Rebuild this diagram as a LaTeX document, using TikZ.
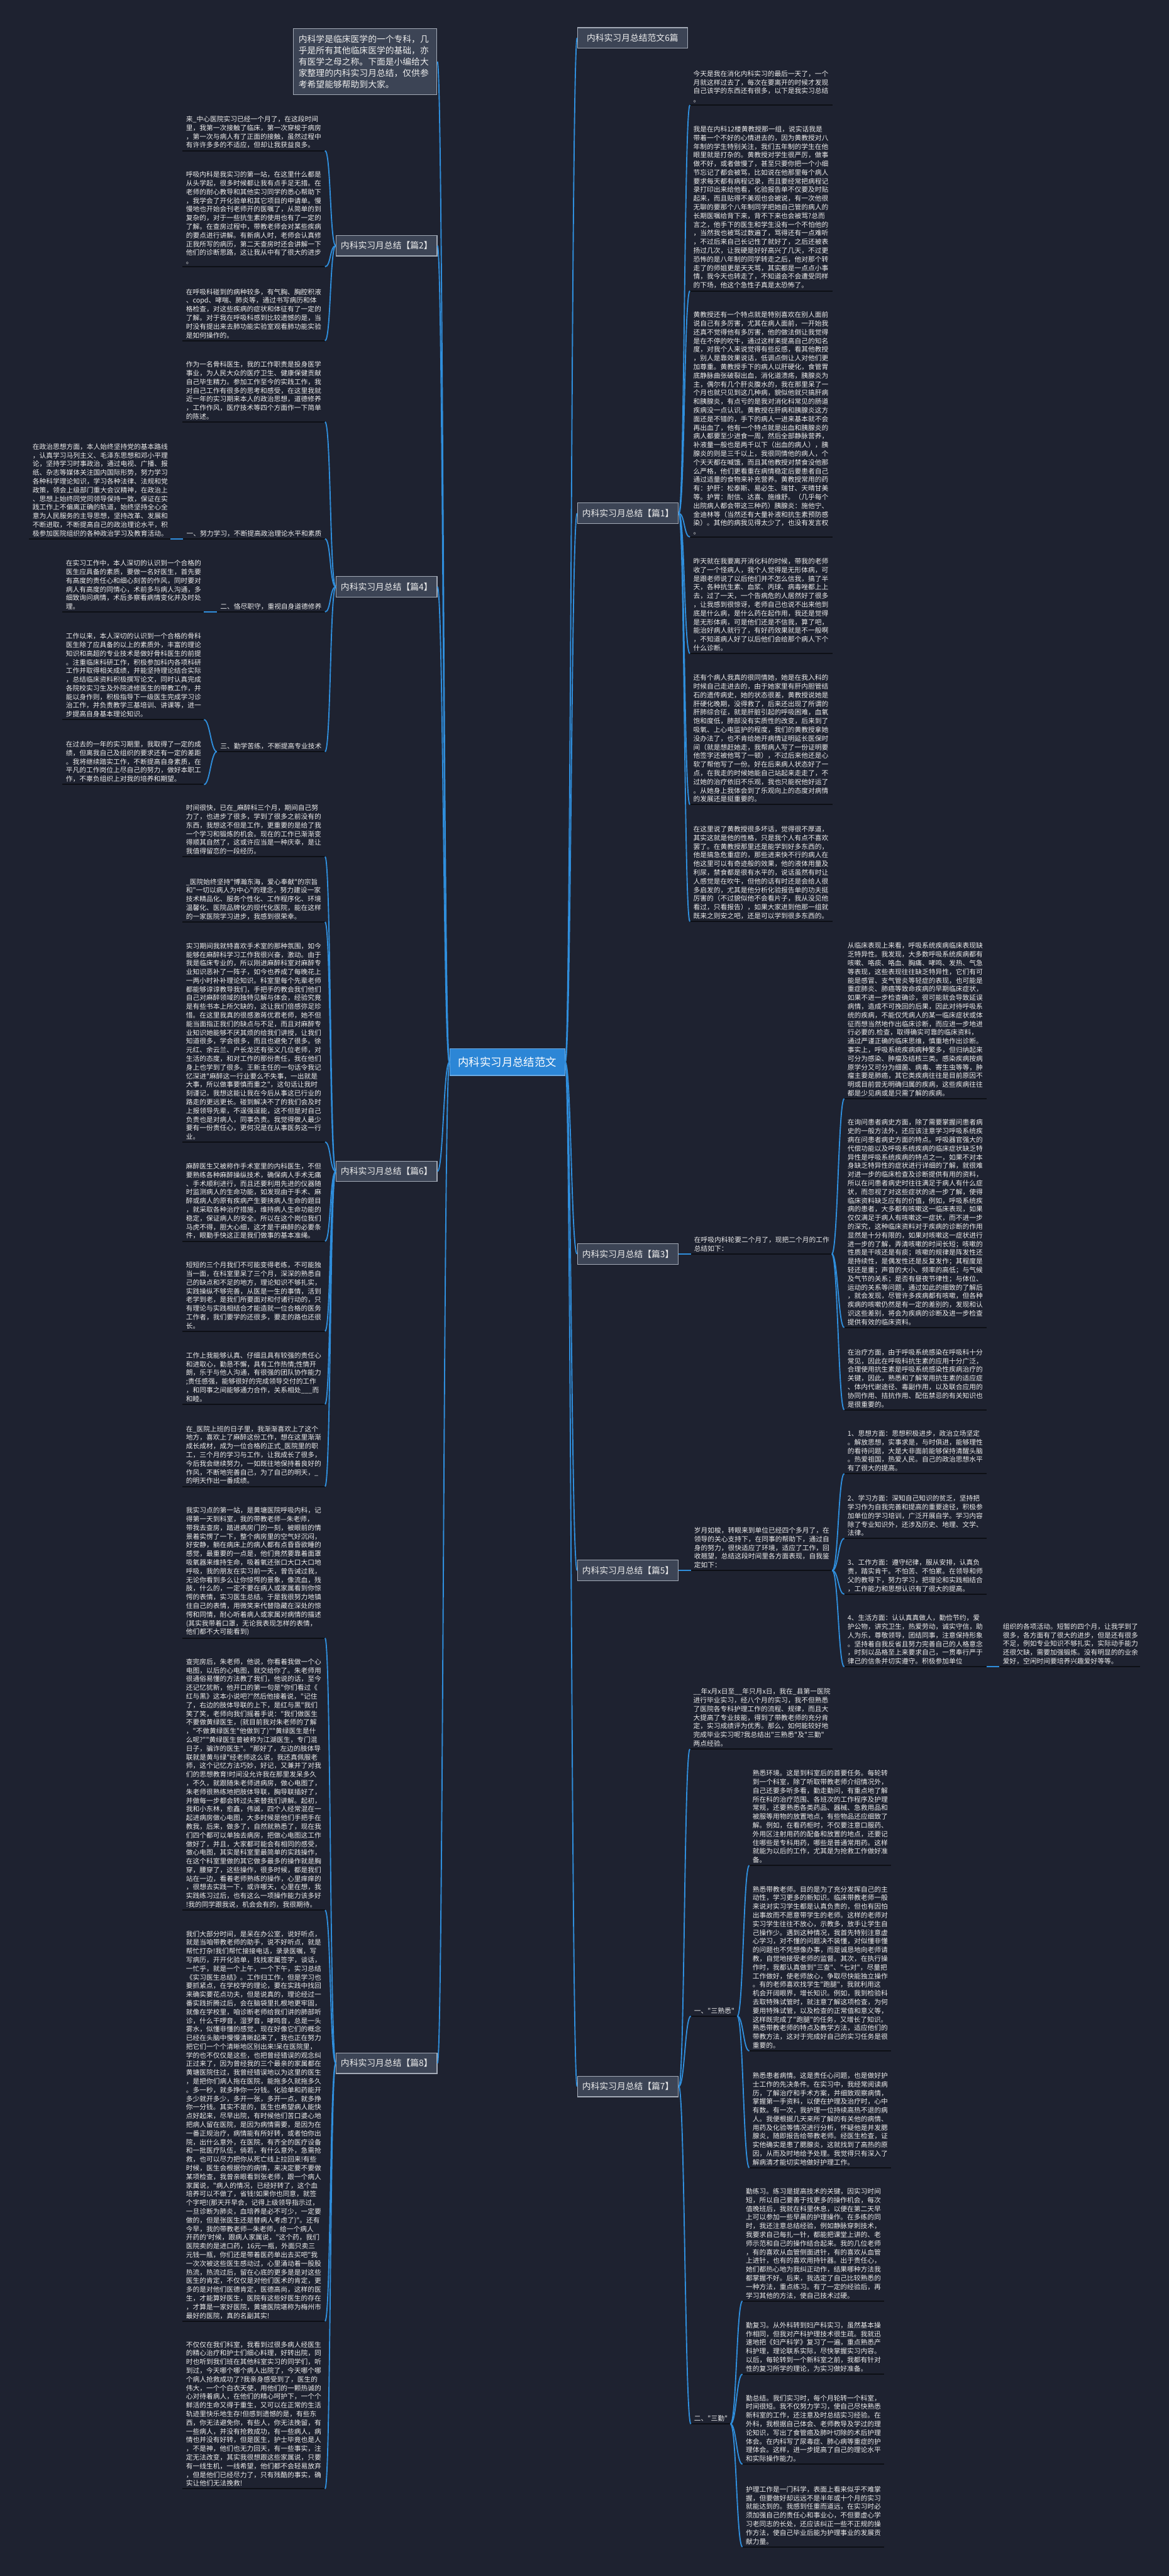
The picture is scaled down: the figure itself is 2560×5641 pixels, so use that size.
\documentclass[tikz,border=0pt]{standalone}
\usepackage{fontspec}
\newfontfamily\cjk{Noto Sans CJK SC}
\definecolor{bgc}{HTML}{1E2230}
\definecolor{connc}{HTML}{2F8EDC}
\definecolor{ulc}{HTML}{0D0F15}
\definecolor{txtc}{HTML}{EDEDED}
\definecolor{lblfill}{HTML}{3C4455}
\definecolor{lblbd}{HTML}{A3AAB6}
\definecolor{ctrfill}{HTML}{2C86D6}
\newcommand\blkfont{\cjk\fontsize{7.4}{9.5}\selectfont}
\newcommand\lblfont{\cjk\fontsize{9.5}{12.5}\selectfont}
\newcommand\ctrfont{\cjk\fontsize{12}{14}\selectfont}
\newcommand\connR[2]{\draw[conn] (#1) .. controls +(13,0) and +(-13,0) .. (#2);}
\newcommand\connL[2]{\draw[conn] (#1) .. controls +(-13,0) and +(13,0) .. (#2);}
\tikzset{
 conn/.style={draw=connc, line width=1.3pt},
 uline/.style={draw=ulc, line width=1.4pt},
 blk/.style={anchor=south west, text width=#1, align=left, inner xsep=3.5pt, inner ysep=2.3pt, font=\blkfont, text=txtc},
 lbl/.style={draw=lblbd, fill=lblfill, line width=0.8pt, text=txtc, font=\lblfont, minimum width=110.5pt, minimum height=22.5pt, inner sep=0pt},
}
\begin{document}
\begin{tikzpicture}[x=0.5pt,y=-0.5pt]
\fill[bgc] (0,0) rectangle (2560,5641);
\useasboundingbox (0,0) rectangle (2560,5641);

% ---------- centre ----------
\node[draw=ctrfill!70!white, line width=0.8pt, fill=ctrfill, text=white, font=\ctrfont, minimum width=126pt, minimum height=29pt, inner sep=0pt] (ctr) at (1111,2326) {内科实习月总结范文};

% ---------- intro ----------
\node[lbl, text width=146pt, align=left, minimum width=0pt, inner xsep=5.5pt, inner ysep=6.5pt] (intro) at (800,135) {内科学是临床医学的一个专科，几\\乎是所有其他临床医学的基础，亦\\有医学之母之称。下面是小编给大\\家整理的内科实习月总结，仅供参\\考希望能够帮助到大家。};

% ---------- left labels ----------
\node[lbl, anchor=east] (lab2) at (958,538) {内科实习月总结【篇2】};
\node[lbl, anchor=east] (lab4) at (958,1285) {内科实习月总结【篇4】};
\node[lbl, anchor=east] (lab6) at (958,2565) {内科实习月总结【篇6】};
\node[lbl, anchor=east] (lab8) at (958,4518) {内科实习月总结【篇8】};

% ---------- right labels ----------
\node[lbl, anchor=west, minimum width=120.5pt] (lab0) at (1264,83) {内科实习月总结范文6篇};
\node[lbl, anchor=west] (lab1) at (1264,1124) {内科实习月总结【篇1】};
\node[lbl, anchor=west] (lab3) at (1264,2746) {内科实习月总结【篇3】};
\node[lbl, anchor=west] (lab5) at (1264,3439) {内科实习月总结【篇5】};
\node[lbl, anchor=west] (lab7) at (1264,4569) {内科实习月总结【篇7】};

% ---------- 篇2 ----------
\node[blk=148.5pt] (a1) at (400,330) {来\_中心医院实习已经一个月了，在这段时间\\里，我第一次接触了临床，第一次穿梭于病房\\，第一次与病人有了正面的接触，虽然过程中\\有许许多多的不适应，但却让我获益良多。};
\node[blk=148.5pt] (a2) at (400,584) {呼吸内科是我实习的第一站，在这里什么都是\\从头学起，很多时候都让我有点手足无措。在\\老师的耐心教导和其他实习同学的悉心帮助下\\，我学会了开化验单和其它项目的申请单。慢\\慢地也开始会刊老师开的医嘱了，从简单的到\\复杂的，对于一些抗生素的使用也有了一定的\\了解。在查房过程中，带教老师会对某些疾病\\的要点进行讲解。有新病人时，老师会认真修\\正我所写的病历，第二天查房时还会讲解一下\\他们的诊断思路，这让我从中有了很大的进步\\。};
\node[blk=148.5pt] (a3) at (400,746) {在呼吸科碰到的病种较多，有气胸、胸腔积液\\、copd、哮喘、肺炎等，通过书写病历和体\\格检查，对这些疾病的症状和体征有了一定的\\了解。对于我在呼吸科感到比较遗憾的是，当\\时没有提出来去肺功能实验室观看肺功能实验\\是如何操作的。};

% ---------- 篇4 ----------
\node[blk=148.5pt] (b0) at (400,924) {作为一名骨科医生，我的工作职责是投身医学\\事业，为人民大众的医疗卫生、健康保健贡献\\自己毕生精力。参加工作至今的实践工作，我\\对自己工作有很多的思考和感受，在这里我就\\近一年的实习期来本人的政治思想，道德修养\\，工作作风，医疗技术等四个方面作一下简单\\的陈述。};
\node[blk=148pt] (k1) at (401,1180) {一、努力学习，不断提高政治理论水平和素质};
\node[blk=147.5pt] (p1) at (64,1180) {在政治思想方面，本人始终坚持党的基本路线\\，认真学习马列主义、毛泽东思想和邓小平理\\论，坚持学习时事政治，通过电视、广播、报\\纸、杂志等媒体关注国内国际形势，努力学习\\各种科学理论知识，学习各种法律、法规和党\\政策，领会上级部门重大会议精神，在政治上\\、思想上始终同党同领导保持一致，保证在实\\践工作上不偏离正确的轨道，始终坚持全心全\\意为人民服务的主导思想，坚持改革、发展和\\不断进取，不断提高自己的政治理论水平，积\\极参加医院组织的各种政治学习及教育活动。};
\node[blk=111pt] (k2) at (475,1340) {二、恪尽职守，重视自身道德修养};
\node[blk=147.5pt] (q1) at (137,1340) {在实习工作中，本人深切的认识到一个合格的\\医生应具备的素质，要做一名好医生，首先要\\有高度的责任心和细心刻苦的作风，同时要对\\病人有高度的同情心，术前多与病人沟通，多\\细致询问病情，术后多察看病情变化并及时处\\理。};
\node[blk=111pt] (k3) at (475,1646) {三、勤学苦练，不断提高专业技术};
\node[blk=147.5pt] (t1) at (137,1576) {工作以来，本人深切的认识到一个合格的骨科\\医生除了应具备的以上的素质外，丰富的理论\\知识和高超的专业技术是做好骨科医生的前提\\。注重临床科研工作，积极参加科内各项科研\\工作并取得相关成绩，并能坚持理论结合实际\\，总结临床资料积极撰写论文，同时认真完成\\各院校实习生及外院进修医生的带教工作，并\\能以身作则，积极指导下一级医生完成学习诊\\治工作，并负责教学三基培训、讲课等，进一\\步提高自身基本理论知识。};
\node[blk=147.5pt] (t2) at (137,1718) {在过去的一年的实习期里，我取得了一定的成\\绩，但离我自己及组织的要求还有一定的差距\\。我将继续踏实工作，不断提高自身素质，在\\平凡的工作岗位上尽自己的努力，做好本职工\\作，不辜负组织上对我的培养和期望。};

% ---------- 篇6 ----------
\node[blk=148.5pt] (l1) at (400,1876) {时间很快，已在\_麻醉科三个月，期间自己努\\力了，也进步了很多，学到了很多之前没有的\\东西，我想这不但是工作，更重要的是给了我\\一个学习和锻炼的机会。现在的工作已渐渐变\\得顺其自然了，这或许应当是一种庆幸，是让\\我值得留恋的一段经历。};
\node[blk=148.5pt] (l2) at (400,2019) {\_医院始终坚持"博瀚东海，爱心奉献"的宗旨\\和"一切以病人为中心"的理念，努力建设一家\\技术精品化、服务个性化、工作程序化、环境\\温馨化、医院品牌化的现代化医院，能在这样\\的一家医院学习进步，我感到很荣幸。};
\node[blk=148.5pt] (l3) at (400,2501) {实习期间我就特喜欢手术室的那种氛围，如今\\能够在麻醉科学习工作我很兴奋，激动。由于\\我是临床专业的，所以刚进麻醉科室对麻醉专\\业知识恶补了一阵子，如今也养成了每晚花上\\一两小时补补理论知识。科室里每个先辈老师\\都能够谆谆教导我们，手把手的教会我们他们\\自己对麻醉领域的独特见解与体会，经验究竟\\是有些书本上所欠缺的，这让我们倍感弥足珍\\惜。在这里我真的很感激蒋优君老师，她不但\\能当面指正我们的缺点与不足，而且对麻醉专\\业知识她能够不厌其烦的给我们讲授，让我们\\知道很多，学会很多，而且也避免了很多。徐\\元红、余云兰、户长龙还有张义几位老师，对\\生活的态度，和对工作的那份责任，我在他们\\身上也学到了很多。王新主任的一句话令我记\\忆深进"麻醉这一行业要么不失事，一出就是\\大事，所以做事要慎而重之"，这句话让我时\\刻谨记，我想这能让我在今后从事这已行业的\\路走的更远更长。碰到解决不了的我们会及时\\上报领导先辈，不逞强逞能，这不但是对自己\\负责也是对病人，同事负责。我觉得做人最少\\要有一份责任心，更何况是在从事医务这一行\\业。};
\node[blk=148.5pt] (l4) at (400,2718) {麻醉医生又被称作手术室里的内科医生，不但\\要熟练各种麻醉操纵技术，确保病人手术无痛\\、手术顺利进行，而且还要利用先进的仪器随\\时监测病人的生命功能，如发现由于手术、麻\\醉或病人的原有疾病产生要挟病人生命的题目\\，就采取各种治疗措施，维持病人生命功能的\\稳定，保证病人的安全。所以在这个岗位我们\\马虎不得，胆大心细，这才是干麻醉的必要条\\件，眼勤手快这正是我们做事的基本准绳。};
\node[blk=148.5pt] (l5) at (400,2915) {短短的三个月我们不可能变得老练，不可能独\\当一面，在科室里呆了三个月，深深的熟悉自\\己的缺点和不足的地方，理论知识不够扎实，\\实践操纵不够完善，从医是一生的事情，活到\\老学到老，是我们所要面对和付诸行动的，只\\有理论与实践相结合才能造就一位合格的医务\\工作者，我们要学的还很多，要走的路也还很\\长。};
\node[blk=148.5pt] (l6) at (400,3075) {工作上我能够认真、仔细且具有较强的责任心\\和进取心，勤恳不懈，具有工作热情;性情开\\朗，乐于与他人沟通，有很强的团队协作能力\\;责任感强，能够很好的完成领导交付的工作\\，和同事之间能够通力合作，关系相处\_\_\_而\\和睦。};
\node[blk=148.5pt] (l7) at (400,3255) {在\_医院上班的日子里，我渐渐喜欢上了这个\\地方，喜欢上了麻醉这份工作，想在这里渐渐\\成长成材，成为一位合格的正式\_医院里的职\\工，三个月的学习与工作，让我成长了很多，\\今后我会继续努力，一如既往地保持着良好的\\作风，不断地完善自己，为了自己的明天，\_\\的明天作出一番成绩。};

% ---------- 篇8 ----------
\node[blk=148.5pt] (e1) at (400,3587) {我实习点的第一站，是黄塘医院呼吸内科，记\\得第一天到科室，我的带教老师—朱老师，\\带我去查房，踏进病房门的一刻，被眼前的情\\景着实愣了一下，整个病房里的空气好沉闷，\\好安静，躺在病床上的病人都有点昏昏欲睡的\\感觉，最重要的一点是，他们竟然要靠着面罩\\吸氧器来维持生命，吸着氧还张口大口大口地\\呼吸，我的朋友在实习前一天，曾告诫过我，\\无论你看到多么让你惊愕的景象，像流血，残\\肢，什么的，一定不要在病人或家属看到你惊\\愕的表情，实习医生总结。于是我很努力地镇\\住自己的表情，用微笑来代替隐藏在深处的惊\\愕和同情，耐心听着病人或家属对病情的描述\\(其实我带着口罩，无论我表现怎样的表情，\\他们都不大可能看到)};
\node[blk=148.5pt] (e2) at (400,4183) {查完房后，朱老师，他说，你看着我做一个心\\电图，以后的心电图，就交给你了。朱老师用\\很通俗易懂的方法教了我们，他说的话，至今\\还记忆犹新，他开口的第一句是"你们看过《\\红与黑》这本小说吧?"然后他接着说，"记住\\了，右边的肢体导联的上下，是红与黑"我们\\笑了笑，老师向我们摇着手说："我们做医生\\不要做黄绿医生，(就目前我对朱老师的了解\\，"不做黄绿医生"他做到了)""黄绿医生是什\\么呢?""黄绿医生曾被称为江湖医生，专门混\\日子，骗诈的医生"。"那好了，左边的肢体导\\联就是黄与绿"经老师这么说，我还真佩服老\\师，这个记忆方法巧妙，好记，又兼并了对我\\们的思想教育!时间没允许我在那里发呆多久\\，不久，就跟随朱老师进病房，做心电图了，\\朱老师很熟练地把肢体导联，胸导联插好了，\\并做每一步都会转过头来替我们讲解。起初，\\我和小东林，愈鑫，伟诚，四个人经常混在一\\起进病房做心电图，大多时候是他们手把手在\\教我，后来，做多了，自然就熟悉了，现在我\\们四个都可以单独去病房，把做心电图这工作\\做好了，并且，大家都可能会有相同的感受，\\做心电图，其实是科室里最简单的实践操作，\\在这个科室里做的其它做多最多的操作就是胸\\穿，腰穿了，这些操作，很多时候，都是我们\\站在一边，看着老师熟练的操作，心里痒痒的\\，很想去实践一下，或许哪天，心里在想，我\\实践练习过后，也有这么一项操作能力该多好\\!我的同学跟我说，机会会有的，我很期待。};
\node[blk=148.5pt] (e3) at (400,5083) {我们大部分时间，是呆在办公室，说好听点，\\就是当咱带教老师的助手，说不好听点，就是\\帮忙打杂!我们帮忙接接电话，录录医嘱，写\\写病历，开开化验单，找找家属签字，谈话，\\一忙乎，就是一个上午，一个下午，实习总结\\《实习医生总结》。工作归工作，但是学习也\\要抓紧点，在学校学的理论，要在实践中找回\\来确实要花点功夫，但是说真的，理论经过一\\番实践折腾过后，会在脑袋里扎根地更牢固，\\就像在学校里，咱诊断老师给我们讲的肺部听\\诊，什么干啰音，湿罗音，哮鸣音，总是一头\\雾水，似懂非懂的感觉，现在好像它们的概念\\已经在头脑中慢慢清晰起来了，我也正在努力\\把它们一个个清晰地区别出来!呆在医院里，\\学的也不仅仅是这些，也把曾经错误的观念纠\\正过来了，因为曾经我的三个最亲的家属都在\\黄塘医院住过，我曾经错误地以为这里的医生\\，是把你们病人拖在医院，能拖多久就拖多久\\。多一秒，就多挣你一分钱。化验单和药能开\\多少就开多少，多开一张，多开一点，就多挣\\你一分钱。其实不是的，医生也希望病人能快\\点好起来，尽早出院，有时候他们苦口婆心地\\把病人留在医院，是因为病情需要，是因为在\\一番正规治疗，病情能有所好转，或者怕你出\\院，出什么意外，在医院，有齐全的医疗设备\\和一批医疗队伍，倘若，有什么意外，急需抢\\救，也可以尽力把你从死亡线上拉回来!有些\\时候，医生会根据你的病情，来决定要不要做\\某项检查，我曾亲眼看到张老师，跟一个病人\\家属说，"病人的情况，已经好转了，这个血\\培养可以不做了，省钱!如果你也同意，就签\\个字吧!(那天开早会，记得上级领导指示过，\\一旦诊断为肺炎，血培养是必不可少，一定要\\做的，但是张医生还是替病人考虑了)"。还有\\今早，我的带教老师—朱老师，给一个病人\\开药的'时候，跟病人家属说，"这个药，我们\\医院卖的是进口药，16元一瓶，外面只卖三\\元钱一瓶，你们还是带着医药单出去买吧"我\\一次次被这些医生感动过，心里涌动着一股股\\热流，热流过后，留在心底的更多是是对这些\\医生的肯定，不仅仅是对他们医术的肯定，更\\多的是对他们医德肯定，医德高尚，这样的医\\生，才能算好医生，医院有这些好医生的存在\\，才算是一家好医院，黄塘医院堪称为梅州市\\最好的医院，真的名副其实!};
\node[blk=148.5pt] (e4) at (400,5450) {不仅仅在我们科室，我看到过很多病人经医生\\的精心治疗和护士们细心料理，好转出院，同\\时也听到我们班在其他科室实习的同学们，听\\到过，今天哪个哪个病人出院了，今天哪个哪\\个病人抢救成功了?我亲身感受到了，医生的\\伟大，一个个白衣天使，用他们的一颗热诚的\\心对待着病人，在他们的精心呵护下，一个个\\鲜活的生命又得于重生，又可以在正常的生活\\轨迹里快乐地生存!但感到遗憾的是，有些东\\西，你无法避免你，有些人，你无法挽留，有\\一些病人，并没有抢救成功，有一些病人，病\\情也并没有好转，但是医生，护士毕竟也是人\\，不是神，他们也无力回天，有一些事实，注\\定无法改变，其实我很想跟这些家属说，只要\\有一线生机，一线希望，他们都不会轻易放弃\\，但是他们已经尽力了，只有残酷的事实，确\\实让他们无法挽救!};

% ---------- 篇1 ----------
\node[blk=149pt] (r1) at (1511,230) {今天是我在消化内科实习的最后一天了，一个\\月就这样过去了，每次在要离开的时候才发现\\自己该学的东西还有很多，以下是我实习总结\\。};
\node[blk=149pt] (r2) at (1511,637) {我是在内科12楼黄教授那一组，说实话我是\\带着一个不好的心情进去的，因为黄教授对八\\年制的学生特别关注，我们五年制的学生在他\\眼里就是打杂的。黄教授对学生很严厉，做事\\做不好，或者做慢了，甚至只要你把一个小细\\节忘记了都会被骂，比如说在他那里每个病人\\要求每天都有病程记录，而且要经常把病程记\\录打印出来给他看，化验报告单不仅要及时贴\\起来，而且贴得不美观也会被说，有一次他很\\无聊的要那个八年制同学把她自己管的病人的\\长期医嘱给背下来，背不下来也会被骂?总而\\言之，他手下的医生和学生没有一个不怕他的\\，当然我也被骂过数遍了，骂得还有一点难听\\，不过后来自己长记性了就好了，之后还被表\\扬过几次，让我硬是好好高兴了几天，不过更\\恐怖的是八年制的同学转走之后，他对那个转\\走了的师姐更是天天骂，其实都是一点点小事\\情，我今天也转走了，不知道会不会遭受同样\\的下场，他这个急性子真是太恐怖了。};
\node[blk=149pt] (r3) at (1511,1176) {黄教授还有一个特点就是特别喜欢在别人面前\\说自己有多厉害，尤其在病人面前，一开始我\\还真不觉得他有多厉害，他的做法倒让我觉得\\是在不停的吹牛，通过这样来提高自己的知名\\度，对我个人来说觉得有些反感，看其他教授\\，别人是靠效果说话，低调点倒让人对他们更\\加尊重。黄教授手下的病人以肝硬化，食管胃\\底静脉曲张破裂出血，消化道溃疡，胰腺炎为\\主，偶尔有几个肝炎腹水的，我在那里呆了一\\个月也就只见到这几种病，貌似他就只搞肝病\\和胰腺炎，有点亏的是我对消化科常见的肠道\\疾病没一点认识。黄教授在肝病和胰腺炎这方\\面还是不错的，手下的病人一进来基本就不会\\再出血了，他有一个特点就是出血和胰腺炎的\\病人都要至少进食一周，然后全部静脉营养，\\补液量一般也是两千以下（出血的病人），胰\\腺炎的则是三千以上，我很同情他的病人，个\\个天天都在喊饿，而且其他教授对禁食没他那\\么严格，他们更看重在病情稳定后要患者自己\\通过适量的食物来补充营养。黄教授常用的药\\有：护肝：松泰斯、易必生、瑞甘、天晴甘美\\等。护胃：耐信、达喜、施维舒。（几乎每个\\出院病人都会带这三种药）胰腺炎：施他宁、\\金迪林等（当然还有大量补液和抗生素预防感\\染）。其他的病我见得太少了，也没有发言权\\。};
\node[blk=149pt] (r4) at (1511,1431) {昨天就在我要离开消化科的时候，带我的老师\\收了一个怪病人，我个人觉得是无形体病，可\\是跟老师说了以后他们并不怎么信我，搞了半\\天，各种抗生素、血浆、丙球、病毒唑都上上\\去，过了一天，一个告病危的人居然好了很多\\，让我感到很惊讶，老师自己也说不出来他到\\底是什么病，是什么药在起作用，我还是觉得\\是无形体病，可是他们还是不信我，算了吧，\\能治好病人就行了，有好药效果就是不一般啊\\，不知道病人好了以后他们会给那个病人下个\\什么诊断。};
\node[blk=149pt] (r5) at (1511,1762) {还有个病人我真的很同情她，她是在我入科的\\时候自己走进去的，由于她家里有肝内胆管结\\石的遗传病史，她的状态很差，黄教授说她是\\肝硬化晚期，没得救了，后来还出现了所谓的\\肝肺综合征，就是肝脏引起的呼吸困难，血氧\\饱和度低，肺部没有实质性的改变，后来到了\\吸氧、上心电监护的程度，我们的黄教授拿她\\没办法了，也不肯给她开病情证明延长医保时\\间（就是想赶她走，我帮病人写了一份证明要\\他签字还被他骂了一顿），不过后来他还是心\\软了帮他写了一份。好在后来病人状态好了一\\点，在我走的时候她能自己站起来走走了，不\\过她的治疗依旧不乐观，我也只能祝他好运了\\。从她身上我体会到了乐观向上的态度对病情\\的发展还是挺重要的。};
\node[blk=149pt] (r6) at (1511,2018) {在这里说了黄教授很多坏话，觉得很不厚道，\\其实这就是他的性格，只是我个人有点不喜欢\\罢了。在黄教授那里还是能学到好多东西的，\\他是搞急危重症的，那些进来快不行的病人在\\他这里可以有奇迹般的效果，他的液体用量及\\利尿，禁食都是很有水平的，说话虽然有时让\\人感觉是在吹牛，但他的话有时还是会给人很\\多启发的，尤其是他分析化验报告单的功夫挺\\厉害的（不过貌似他不会看片子，我从没见他\\看过，只看报告），如果大家进到他那一组就\\既来之则安之吧，还是可以学到很多东西的。};

% ---------- 篇3 ----------
\node[blk=147pt] (c0) at (1513,2746) {在呼吸内科轮要二个月了，现把二个月的工作\\总结如下：};
\node[blk=148.5pt] (s1) at (1849,2406) {从临床表现上来看，呼吸系统疾病临床表现缺\\乏特异性。我发现，大多数呼吸系统疾病都有\\咳嗽、咯痰、咯血、胸痛、哮鸣、发热、气急\\等表现，这些表现往往缺乏特异性，它们有可\\能是感冒、支气管炎等轻症的表现，也可能是\\重症肺炎、肺癌等致命疾病的早期临床症状，\\如果不进一步检查确诊，很可能就会导致延误\\病情，造成不可挽回的后果，因此对待呼吸系\\统的疾病，不能仅凭病人的某一临床症状或体\\征而想当然地作出临床诊断，而应进一步地进\\行必要的.检查，取得确实可靠的临床资料，\\通过严谨正确的临床思维，慎重地作出诊断。\\事实上，呼吸系统疾病病种繁多，但归纳起来\\可分为感染、肿瘤及结核三类。感染疾病按病\\原学分又可分为细菌、病毒、寄生虫等等，肿\\瘤主要是肺癌，其它类疾病往往是目前原因不\\明或目前尝无明确归属的疾病，这些疾病往往\\都是少见病或是只需了解的疾病。};
\node[blk=148.5pt] (s2) at (1849,2907) {在询问患者病史方面，除了需要掌握问患者病\\史的一般方法外，还应该注意学习呼吸系统疾\\病在问患者病史方面的特点。呼吸器官强大的\\代偿功能以及呼吸系统疾病的临床症状缺乏特\\异性是呼吸系统疾病的特点之一，如果不对本\\身缺乏特异性的症状进行详细的了解，就很难\\对进一步的临床检查及诊断提供有用的资料，\\所以在问患者病史时往往满足于病人有什么症\\状，而忽视了对这些症状的进一步了解，使得\\临床资料缺乏应有的价值，例如，呼吸系统疾\\病的患者，大多都有咳嗽这一临床表现，如果\\仅仅满足于病人有咳嗽这一症状，而不进一步\\的深究，这种临床资料对于疾病的诊断的作用\\显然是十分有限的，如果对咳嗽这一症状进行\\进一步的了解，弄清咳嗽的时间长短；咳嗽的\\性质是干咳还是有痰；咳嗽的规律是阵发性还\\是持续性，是偶发性还是反复发作；其程度是\\轻还是重；声音的大小、频率的高低；与气候\\及气节的关系；是否有昼夜节律性；与体位、\\运动的关系等问题，通过如此的细致的了解后\\，就会发现，尽管许多疾病都有咳嗽，但各种\\疾病的咳嗽仍然是有一定的差别的，发现和认\\识这些差别，将会为疾病的诊断及进一步检查\\提供有效的临床资料。};
\node[blk=148.5pt] (s3) at (1849,3087) {在治疗方面，由于呼吸系统感染在呼吸科十分\\常见，因此在呼吸科抗生素的应用十分广泛，\\合理使用抗生素是呼吸系统感染性疾病治疗的\\关键，因此，熟悉和了解常用抗生素的适应症\\、体内代谢途径、毒副作用，以及联合应用的\\协同作用、拮抗作用、配伍禁忌的有关知识也\\是很重要的。};

% ---------- 篇5 ----------
\node[blk=147.5pt] (d0) at (1513,3439) {岁月如梭，转眼来到单位已经四个多月了，在\\领导的关心支持下，在同事的帮助下，通过自\\身的努力，很快适应了环境，适应了工作，回\\收翘望，总结这段时间里各方面表现，自我鉴\\定如下：};
\node[blk=148.5pt] (f1) at (1849,3227) {1、思想方面：思想积极进步，政治立场坚定\\。解放思想，实事求是，与时俱进，能够理性\\的看待问题，大是大非面前能够保持清醒头脑\\。热爱祖国，热爱人民。自己的政治思想水平\\有了很大的提高。};
\node[blk=148.5pt] (f2) at (1849,3369) {2、学习方面：深知自己知识的贫乏，坚持把\\学习作为自我完善和提高的重要途径，积极参\\加单位的学习培训，广泛开展自学。学习内容\\除了专业知识外，还涉及历史、地理、文学、\\法律。};
\node[blk=148.5pt] (f3) at (1849,3491) {3、工作方面：遵守纪律，服从安排，认真负\\责，踏实肯干。不怕苦、不怕累。在领导和师\\父的教导下，努力学习，把理论和实践相结合\\，工作能力和思想认识有了很大的提高。};
\node[blk=148.5pt] (f4) at (1849,3650) {4、生活方面：认认真真做人，勤俭节约，爱\\护公物，讲究卫生，热爱劳动，诚实守信，助\\人为乐，尊敬领导，团结同事，注意保持形象\\。坚持着自我反省且努力完善自己的人格意念\\，时刻以品格至上来要求自己，一贯奉行严于\\律己的信条并切实遵守。积极参加单位};
\node[blk=146.5pt] (g1) at (2189,3650) {组织的各项活动。短暂的四个月，让我学到了\\很多，各方面有了很大的进步，但是还有很多\\不足，例如专业知识不够扎实，实际动手能力\\还很欠缺，需要加强锻炼。没有明显的的业余\\爱好，空闲时间要培养兴趣爱好等等。};

% ---------- 篇7 ----------
\node[blk=149pt] (h0) at (1511,3830) {\_\_年x月x日至\_\_年只月x日，我在\_县第一医院\\进行毕业实习，经八个月的实习，我不但熟悉\\了医院各专科护理工作的流程、规律，而且大\\大提高了专业技能，得到了带教老师的充分肯\\定，实习成绩评为优秀。那么，如何能较好地\\完成毕业实习呢?我总结出"三熟悉"及"三勤"\\两点经验。};
\node[blk=43.5pt] (h1) at (1513,4415) {一、"三熟悉"};
\node[blk=36pt] (h2) at (1513,5308) {二、"三勤"};
\node[blk=148pt] (u1) at (1641,4085) {熟悉环境。这是到科室后的首要任务。每轮转\\到一个科室，除了听取带教老师介绍情况外，\\自己还要多听多看，勤走勤问，有重点地了解\\所在科的治疗范围、各班次的工作程序及护理\\常规，还要熟悉各类药品、器械、急救用品和\\被服等用物的放置地点，有些物品还应细致了\\解。例如，在看药柜时，不仅要注意口服药、\\外用区注射用药的配备和放置的地点，还要记\\住哪些是专科用药，哪些是普通常用药。这样\\就能为以后的工作，尤其是为抢救工作做好准\\备。};
\node[blk=148pt] (u2) at (1641,4491) {熟悉带教老师。目的是为了充分发挥自己的主\\动性，学习更多的新知识。临床带教老师一般\\来说对实习学生都是认真负责的，但也有因怕\\出事故而不愿意带学生的老师。这样的老师对\\实习学生往往不放心，示教多，放手让学生自\\己操作少。遇到这种情况，我首先特别注意虚\\心学习，对不懂的问题决不装懂，对似懂非懂\\的问题也不凭想像办事，而是诚恳地向老师请\\教，自觉地接受老师的监督。其次，在执行操\\作时，我都认真做到"三查"、"七对"，尽量把\\工作做好，使老师放心，争取尽快能独立操作\\。有的老师喜欢找学生"跑腿"，我就利用这\\机会开阔眼界，增长知识。例如，我到检验科\\去取特殊试管时，就注意了解这项检查，为何\\要用特殊试管，以及检查的正常值和意义等，\\这样既完成了"跑腿"的任务，又增长了知识。\\熟悉带教老师的特点及教学方法，适应他们的\\带教方法，这对于完成好自己的实习任务是很\\重要的。};
\node[blk=148pt] (u3) at (1641,4747) {熟悉患者病情。这是责任心问题，也是做好护\\士工作的先决条件。在实习中，我经常阅读病\\历，了解治疗和手术方案，并细致观察病情，\\掌握第一手资料，以便在护理及治疗时，心中\\有数。有一次，我护理一位持续高热不退的病\\人。我便根据几天来所了解的有关他的病情、\\用药及化验等情况进行分析，怀疑他是并发腮\\腺炎，随即报告给带教老师。经医生检查，证\\实他确实是患了腮腺炎，这就找到了高热的原\\因，从而及时地给予处理。我觉得只有深入了\\解病清才能切实地做好护理工作。};
\node[blk=148pt] (v1) at (1626,5039) {勤练习。练习是提高技术的关键，因实习时间\\短，所以自己要善于找更多的操作机会，每次\\值晚班后，我就在科里休息，以便在第二天早\\上可以参加一些早晨的护理操作。在多练的同\\时，我还注意总结经验，例如静脉穿刺技术，\\我要求自己每扎一针，都能把课堂上讲的、老\\师示范和自己的操作结合起来。我的几位老师\\，有的喜欢从血管侧面进针，有的喜欢从血管\\上进针，也有的喜欢用持针器。出于责任心，\\她们都热心地为我纠正动作，结果哪种方法我\\都掌握不好。后来，我选定了自己比较熟悉的\\一种方法，重点练习。有了一定的经验后，再\\学习其他的方法，使自己技术过硬。};
\node[blk=148pt] (v2) at (1626,5199) {勤复习。从外科转到妇产科实习，虽然基本操\\作相同，但我对产科护理技术很生疏。我就迅\\速地把《妇产科学》复习了一遍，重点熟悉产\\科护理，理论联系实际，尽快掌握实习内容。\\以后，每轮转到一个新科室之前，我都有针对\\性的复习所学的理论，为实习做好准备。};
\node[blk=148pt] (v3) at (1626,5396) {勤总结。我们实习时，每个月轮转一个科室，\\时间很短。我不仅努力学习，使自己尽快熟悉\\新科室的工作，还注意及时总结实习经验。在\\外科，我根据自己体会、老师教导及学过的理\\论知识，写出了食管癌及肺叶切除的术后护理\\体会。在内科写了尿毒症、肺心病等重症的护\\理体会。这样，进一步提高了自己的理论水平\\和实际操作能力。};
\node[blk=148pt] (v4) at (1626,5577) {护理工作是一门科学，表面上看来似乎不难掌\\握，但要做好却远远不是半年或十个月的实习\\就能达到的。我感到任重而道远，在实习时必\\须加强自己的责任心和事业心，不但要虚心学\\习老同志的长处，还应该纠正一些不正规的操\\作方法，使自己毕业后能为护理事业的发展贡\\献力量。};

% ---------- underlines ----------
\foreach \n in {a1,a2,a3,b0,k1,p1,k2,q1,k3,t1,t2,l1,l2,l3,l4,l5,l6,l7,e1,e2,e3,e4,r1,r2,r3,r4,r5,r6,c0,s1,s2,s3,d0,f1,f2,f3,f4,g1,h0,h1,h2,u1,u2,u3,v1,v2,v3,v4}
  {\draw[uline] (\n.south west) -- (\n.south east);}

% ---------- connectors ----------
\foreach \t in {intro,lab2,lab4,lab6,lab8} {\connL{ctr.west}{\t.east}}
\foreach \t in {lab0,lab1,lab3,lab5,lab7} {\connR{ctr.east}{\t.west}}
\foreach \t in {a1,a2,a3} {\connL{lab2.west}{\t.south east}}
\foreach \t in {b0,k1,k2,k3} {\connL{lab4.west}{\t.south east}}
\connL{k1.south west}{p1.south east}
\connL{k2.south west}{q1.south east}
\foreach \t in {t1,t2} {\connL{k3.south west}{\t.south east}}
\foreach \t in {l1,l2,l3,l4,l5,l6,l7} {\connL{lab6.west}{\t.south east}}
\foreach \t in {e1,e2,e3,e4} {\connL{lab8.west}{\t.south east}}
\foreach \t in {r1,r2,r3,r4,r5,r6} {\connR{lab1.east}{\t.south west}}
\connR{lab3.east}{c0.south west}
\foreach \t in {s1,s2,s3} {\connR{c0.south east}{\t.south west}}
\connR{lab5.east}{d0.south west}
\foreach \t in {f1,f2,f3,f4} {\connR{d0.south east}{\t.south west}}
\connR{f4.south east}{g1.south west}
\foreach \t in {h0,h1,h2} {\connR{lab7.east}{\t.south west}}
\foreach \t in {u1,u2,u3} {\connR{h1.south east}{\t.south west}}
\foreach \t in {v1,v2,v3,v4} {\connR{h2.south east}{\t.south west}}
\end{tikzpicture}
\end{document}
